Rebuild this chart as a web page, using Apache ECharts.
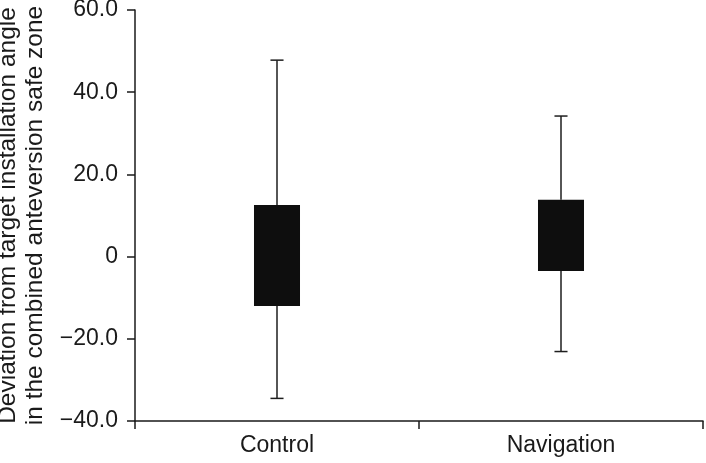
<!DOCTYPE html>
<html>
<head>
<meta charset="utf-8">
<script src="https://cdn.jsdelivr.net/npm/echarts@6/dist/echarts.min.js"></script>
<style>
html,body{margin:0;padding:0;background:#fff;}
#chart{width:706px;height:463px;}
</style>
</head>
<body>
<div id="chart"></div>
<script>
var categories = ['Control', 'Navigation'];
var whiskerMin = [-34.5, -23.1];
var q1 = [-12.0, -3.5];
var q3 = [12.55, 13.85];
var whiskerMax = [47.8, 34.2];
var yTicks = [-40, -20, 0, 20, 40, 60];
var yTickLabels = ['\u221240.0', '\u221220.0', '0', '20.0', '40.0', '60.0'];
var yAxisName = 'Deviation from target installation angle\nin the combined anteversion safe zone';

var data = categories.map(function (c, i) {
  return [i, whiskerMin[i], q1[i], q3[i], whiskerMax[i]];
});

var chart = echarts.init(document.getElementById('chart'), null, {renderer: 'canvas'});
var ink = '#1a1a1a';
var font = '"Liberation Sans", Arial, Helvetica, sans-serif';

chart.setOption({
  animation: false,
  backgroundColor: '#ffffff',
  grid: {left: 135, right: 3, top: 10, bottom: 42, containLabel: false, outerBoundsMode: 'none'},
  xAxis: {
    type: 'category',
    data: categories,
    boundaryGap: true,
    axisLine: {show: true, onZero: false, lineStyle: {color: ink, width: 1.5}},
    axisTick: {show: true, length: 8, alignWithLabel: false, interval: 0, lineStyle: {color: ink, width: 1.5}},
    axisLabel: {color: ink, fontSize: 23, fontFamily: font, margin: 13, interval: 0},
    splitLine: {show: false}
  },
  yAxis: {
    type: 'value',
    min: yTicks[0],
    max: yTicks[yTicks.length - 1],
    interval: 20,
    name: yAxisName,
    nameLocation: 'middle',
    nameRotate: 90,
    nameGap: 83,
    nameTextStyle: {color: ink, fontSize: 24.5, fontFamily: font, lineHeight: 27, align: 'center'},
    axisLine: {show: true, lineStyle: {color: ink, width: 1.5}},
    axisTick: {show: true, length: 8, lineStyle: {color: ink, width: 1.5}},
    axisLabel: {
      color: ink, fontSize: 23, fontFamily: font, margin: 17,
      formatter: function (v) {
        var k = yTicks.indexOf(v);
        return k >= 0 ? yTickLabels[k] : '';
      }
    },
    splitLine: {show: false}
  },
  series: [{
    type: 'custom',
    data: data,
    encode: {x: 0, y: [1, 2, 3, 4]},
    renderItem: function (params, api) {
      var x = api.value(0);
      var pMin = api.coord([x, api.value(1)]);
      var pQ1 = api.coord([x, api.value(2)]);
      var pQ3 = api.coord([x, api.value(3)]);
      var pMax = api.coord([x, api.value(4)]);
      var band = api.size([1, 0])[0];
      var bw = band * 0.162;
      var cw = band * 0.046;
      var cx = pQ1[0];
      var lineStyle = {stroke: '#1e1e1e', lineWidth: 1.5, fill: null};
      return {
        type: 'group',
        children: [
          {type: 'line', shape: {x1: cx, y1: pQ3[1], x2: cx, y2: pMax[1]}, style: lineStyle},
          {type: 'line', shape: {x1: cx, y1: pQ1[1], x2: cx, y2: pMin[1]}, style: lineStyle},
          {type: 'line', shape: {x1: cx - cw / 2, y1: pMax[1], x2: cx + cw / 2, y2: pMax[1]}, style: lineStyle},
          {type: 'line', shape: {x1: cx - cw / 2, y1: pMin[1], x2: cx + cw / 2, y2: pMin[1]}, style: lineStyle},
          {type: 'rect', shape: {x: cx - bw / 2, y: pQ3[1], width: bw, height: pQ1[1] - pQ3[1]}, style: {fill: '#0e0e0e', stroke: null}}
        ]
      };
    }
  }]
});
</script>
</body>
</html>
